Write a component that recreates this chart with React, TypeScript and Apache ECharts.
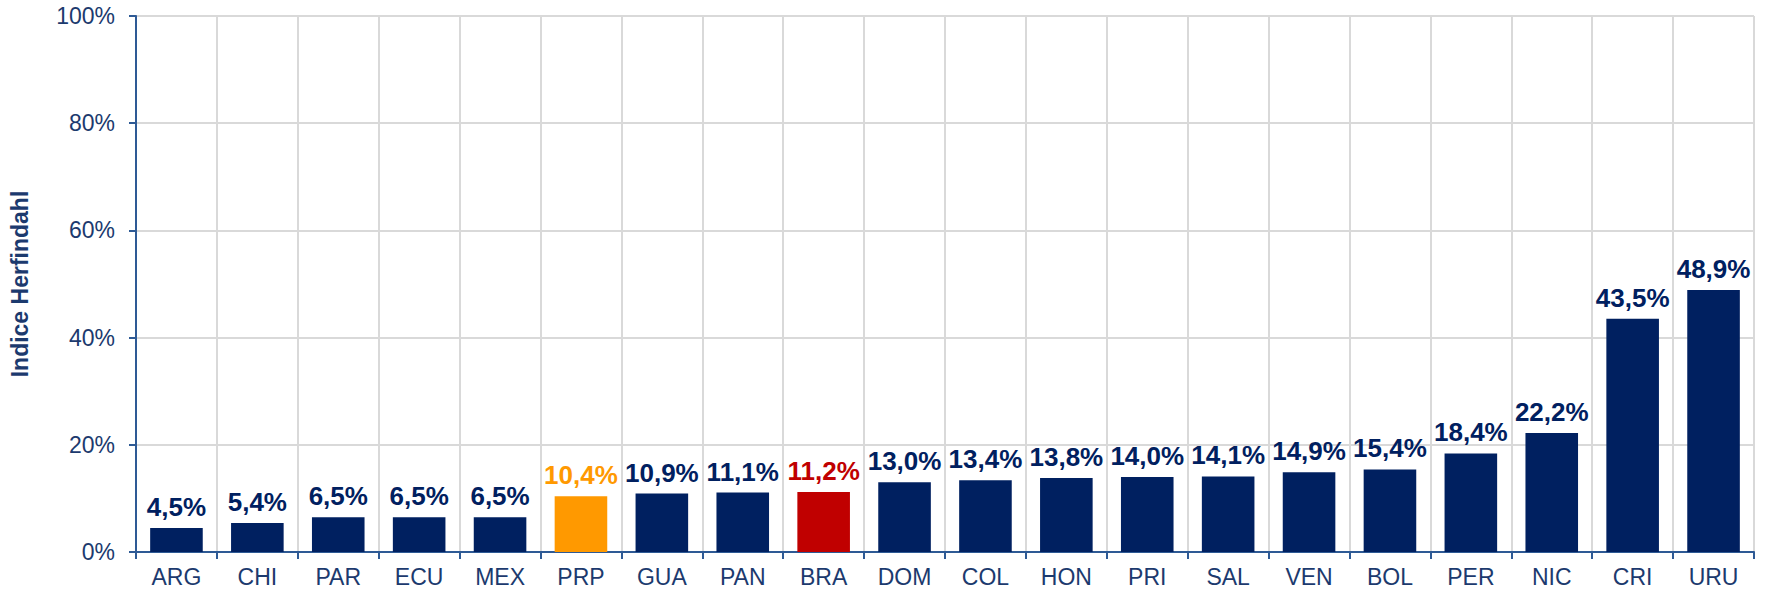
import React, { useEffect, useRef } from "react";
import * as echarts from "echarts";

const categories = ["ARG", "CHI", "PAR", "ECU", "MEX", "PRP", "GUA", "PAN", "BRA", "DOM", "COL", "HON", "PRI", "SAL", "VEN", "BOL", "PER", "NIC", "CRI", "URU"];
const values = [4.5, 5.4, 6.5, 6.5, 6.5, 10.4, 10.9, 11.1, 11.2, 13.0, 13.4, 13.8, 14.0, 14.1, 14.9, 15.4, 18.4, 22.2, 43.5, 48.9];
const highlight: Record<string, string> = { PRP: "#FF9900", BRA: "#C00000" };
const baseColor = "#002060";
const yTitle = "Indice Herfindahl";

export default function App() {
  const ref = useRef<HTMLDivElement>(null);
  useEffect(() => {
    if (!ref.current) return;
    const chart = echarts.init(ref.current, null, { renderer: "svg" });
    const data = values.map((v, i) => {
      const c = highlight[categories[i]] || baseColor;
      return { value: v, itemStyle: { color: c }, label: { color: c } };
    });
    const ff = "Liberation Sans, Arial, sans-serif";
    chart.setOption({
      animation: false,
      backgroundColor: "#ffffff",
      textStyle: { fontFamily: ff },
      grid: { left: 127, right: 18, top: 16, bottom: 43, containLabel: false },
      xAxis: {
        type: "category",
        data: categories,
        boundaryGap: true,
        axisLine: { lineStyle: { color: "#2e5a95", width: 2 } },
        axisTick: { show: true, length: 7, lineStyle: { color: "#2e5a95", width: 2 } },
        axisLabel: { color: "#1c3a6e", fontSize: 23, margin: 13, fontFamily: ff },
        splitLine: { show: true, lineStyle: { color: "#d9d9d9", width: 2 } },
      },
      yAxis: {
        type: "value",
        min: 0,
        max: 100,
        interval: 20,
        name: yTitle,
        nameLocation: "middle",
        nameGap: 105,
        nameTextStyle: { color: "#1c3a6e", fontSize: 23, fontWeight: "bold", fontFamily: ff },
        axisLine: { show: true, lineStyle: { color: "#2e5a95", width: 2 } },
        axisTick: { show: true, length: 7, lineStyle: { color: "#2e5a95", width: 2 } },
        axisLabel: { color: "#1c3a6e", fontSize: 23, margin: 21, formatter: "{value}%", fontFamily: ff },
        splitLine: { show: true, lineStyle: { color: "#d9d9d9", width: 2 } },
      },
      series: [
        {
          type: "bar",
          data,
          barCategoryGap: "35%",
          label: {
            show: true,
            position: "top",
            distance: 8,
            fontSize: 26,
            fontWeight: "bold",
            fontFamily: ff,
            formatter: (p: any) => p.value.toFixed(1).replace(".", ",") + "%",
          },
        },
      ],
    });
    return () => chart.dispose();
  }, []);
  return <div ref={ref} style={{ position: "fixed", left: 0, top: 0, width: 1772, height: 595 }} />;
}
